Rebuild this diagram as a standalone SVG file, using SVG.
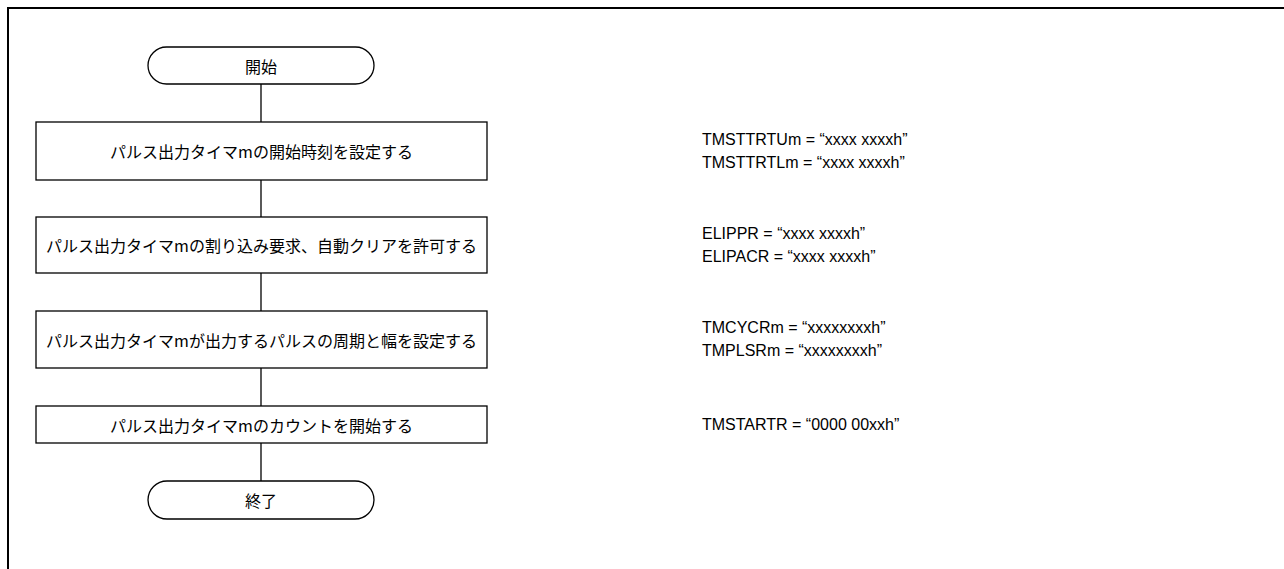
<svg xmlns="http://www.w3.org/2000/svg" width="1284" height="569" viewBox="0 0 1284 569">
<style>
.shape{fill:#fff;stroke:#000;stroke-width:1.3}
.jp{font-family:"Noto Sans CJK JP","Noto Sans CJK SC",sans-serif;font-size:16px;fill:#000;text-anchor:middle;dominant-baseline:central}
.reg{font-family:"Liberation Sans",Arial,sans-serif;font-size:16px;fill:#000}
.conn{stroke:#000;stroke-width:1.3;fill:none}
.frame{stroke:#000;stroke-width:2;fill:none}
</style>
<rect width="1284" height="569" fill="#fff"/>
<path class="frame" d="M8,569 V8 H1284"/>
<g id="connectors">
<line class="conn" x1="261" y1="84" x2="261" y2="122"/>
<line class="conn" x1="261" y1="180" x2="261" y2="217"/>
<line class="conn" x1="261" y1="273" x2="261" y2="311"/>
<line class="conn" x1="261" y1="368" x2="261" y2="406"/>
<line class="conn" x1="261" y1="443" x2="261" y2="481"/>
</g>
<g id="start">
<rect class="shape" x="148" y="47" width="226" height="37" rx="18.5"/>
<text class="jp" x="261" y="65.5">開始</text>
</g>
<g id="step1">
<rect class="shape" x="36" y="122" width="451" height="58"/>
<text class="jp" x="261.5" y="151">パルス出力タイマmの開始時刻を設定する</text>
</g>
<g id="step2">
<rect class="shape" x="36" y="217" width="451" height="56"/>
<text class="jp" x="261.5" y="245">パルス出力タイマmの割り込み要求、自動クリアを許可する</text>
</g>
<g id="step3">
<rect class="shape" x="36" y="311" width="451" height="57"/>
<text class="jp" x="261.5" y="339.5">パルス出力タイマmが出力するパルスの周期と幅を設定する</text>
</g>
<g id="step4">
<rect class="shape" x="36" y="406" width="451" height="37"/>
<text class="jp" x="261.5" y="424.5">パルス出力タイマmのカウントを開始する</text>
</g>
<g id="end">
<rect class="shape" x="148" y="481" width="226" height="38" rx="19"/>
<text class="jp" x="261" y="500">終了</text>
</g>
<g id="notes">
<text class="reg" x="702" y="145">TMSTTRTUm = “xxxx xxxxh”</text>
<text class="reg" x="702" y="168">TMSTTRTLm = “xxxx xxxxh”</text>
<text class="reg" x="702" y="239">ELIPPR = “xxxx xxxxh”</text>
<text class="reg" x="702" y="262">ELIPACR = “xxxx xxxxh”</text>
<text class="reg" x="702" y="333">TMCYCRm = “xxxxxxxxh”</text>
<text class="reg" x="702" y="356">TMPLSRm = “xxxxxxxxh”</text>
<text class="reg" x="702" y="430">TMSTARTR = “0000 00xxh”</text>
</g>
</svg>
